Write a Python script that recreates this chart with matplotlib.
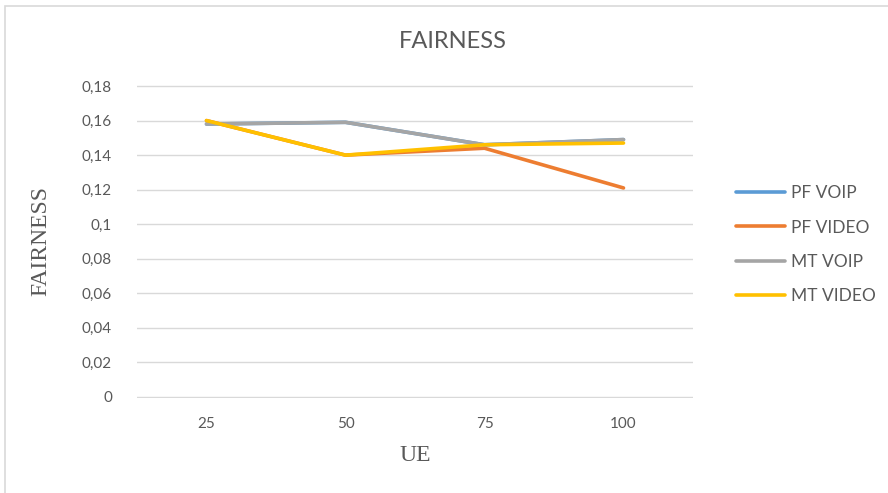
import matplotlib.pyplot as plt
from matplotlib.patches import Rectangle

# Data
ue = ["25", "50", "75", "100"]
pf_voip = [0.158, 0.159, 0.146, 0.149]
pf_video = [0.160, 0.140, 0.144, 0.121]
mt_voip = [0.158, 0.159, 0.146, 0.149]
mt_video = [0.160, 0.140, 0.146, 0.147]

labels = ["PF VOIP", "PF VIDEO", "MT VOIP", "MT VIDEO"]
colors = ["#5b9bd5", "#ed7d31", "#a5a5a5", "#ffc000"]
yticks = [0, 0.02, 0.04, 0.06, 0.08, 0.1, 0.12, 0.14, 0.16, 0.18]
ytick_labels = ["0", "0,02", "0,04", "0,06", "0,08", "0,1", "0,12", "0,14", "0,16", "0,18"]

FONT = "Lato"

fig = plt.figure(figsize=(8.88, 4.93), dpi=100)
fig.patches.append(Rectangle((5 / 888, -0.1), 1.1, (493 - 6) / 493 + 0.1,
                             transform=fig.transFigure, fill=False,
                             edgecolor="#d9d9d9", linewidth=1.2))

ax = fig.add_axes([137 / 888, (493 - 398) / 493, 556 / 888, 313 / 493])
x = range(len(ue))
for series, color, label in zip([pf_voip, pf_video, mt_voip, mt_video], colors, labels):
    ax.plot(x, series, color=color, linewidth=2.6, label=label, solid_capstyle="round")

ax.set_xlim(-0.5, len(ue) - 0.5)
ax.set_ylim(-0.0006, 0.1806)
ax.set_xticks(list(x))
ax.set_xticklabels(ue)
ax.set_yticks(yticks)
ax.set_yticklabels(ytick_labels)
ax.grid(axis="y", color="#d9d9d9", linewidth=1)
ax.set_axisbelow(True)
for s in ax.spines.values():
    s.set_visible(False)
ax.tick_params(length=0, labelsize=11, colors="#595959", pad=18)
ax.tick_params(axis="x", pad=14)
for t in ax.get_xticklabels() + ax.get_yticklabels():
    t.set_family(FONT)

ax.set_xlabel("UE", family="Liberation Serif", fontsize=17, color="#595959", labelpad=10)
ax.set_ylabel("FAIRNESS", family="Liberation Serif", fontsize=17, color="#595959", labelpad=22)
fig.text(453 / 888, 1 - 42 / 493, "FAIRNESS", ha="center", va="center",
         family=FONT, fontsize=17, color="#595959")

ax.legend(loc="center left", bbox_to_anchor=(1.05, 0.49), frameon=False,
          prop={"family": FONT, "size": 12.5},
          labelcolor="#595959", handlelength=2.8, handletextpad=0.35, labelspacing=1.05)

fig.savefig("out.png", dpi=100)
